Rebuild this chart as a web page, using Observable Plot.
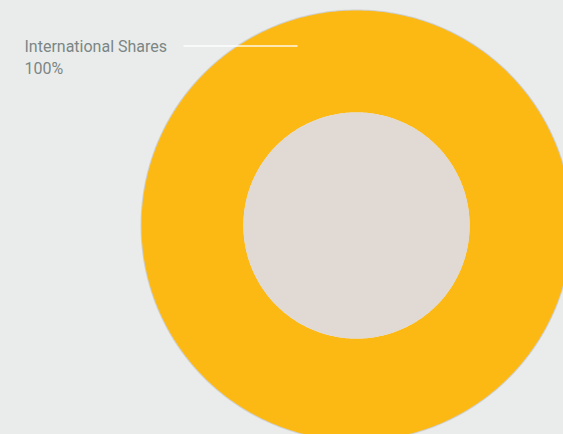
<!DOCTYPE html>
<html>
<head>
<meta charset="utf-8">
<script src="https://cdn.jsdelivr.net/npm/d3@7"></script>
<script src="https://cdn.jsdelivr.net/npm/@observablehq/plot@0.6"></script>
<style>
  html, body { margin: 0; padding: 0; background: #eaeceb; overflow: hidden; }
  #chart svg { display: block; background: #eaeceb; }
</style>
</head>
<body>
<div id="chart"></div>
<script>
// Data
const categories = ["International Shares"];
const values = [100];
const valueLabels = ["100%"];
const colors = ["#fdb913"];

// Layout
const W = 563, H = 434;
const cx = 356, cy = 225, R = 215;
const innerFrac = 0.526;

const pie = d3.pie().sort(null)(values);
const N = 360;
const ringPts = [];
pie.forEach((s, i) => {
  const a0 = s.startAngle, a1 = s.endAngle;
  for (let k = 0; k <= N; k++) {
    const a = a0 + (a1 - a0) * k / N;
    ringPts.push({cat: categories[i], x: Math.sin(a), y: Math.cos(a)});
  }
  for (let k = N; k >= 0; k--) {
    const a = a0 + (a1 - a0) * k / N;
    ringPts.push({cat: categories[i], x: innerFrac * Math.sin(a), y: innerFrac * Math.cos(a)});
  }
});
const outerEdge = d3.range(N + 1).map(k => {
  const a = 2 * Math.PI * k / N;
  return {x: Math.sin(a), y: Math.cos(a)};
});
const innerDisc = d3.range(N + 1).map(k => {
  const a = 2 * Math.PI * k / N;
  return {x: innerFrac * Math.sin(a), y: innerFrac * Math.cos(a)};
});

// leader line in data coords (from label to ring)
const toX = px => (px - cx) / R, toY = py => (cy - py) / R;
const leader = [{x1: toX(183), y1: toY(45.5), x2: toX(297), y2: toY(45.5)}];

const chart = Plot.plot({
  width: W, height: H,
  margin: 0,
  style: {background: "#eaeceb", overflow: "hidden"},
  x: {domain: [-1, 1], range: [cx - R, cx + R], axis: null},
  y: {domain: [-1, 1], range: [cy + R, cy - R], axis: null},
  color: {domain: categories, range: colors},
  marks: [
    Plot.line(outerEdge, {x: "x", y: "y", stroke: "#cfcfcf", strokeWidth: 2}),
    Plot.line(ringPts, {x: "x", y: "y", z: "cat", fill: "cat", stroke: "none"}),
    Plot.line(innerDisc, {x: "x", y: "y", fill: "#e0d9d4", stroke: "none"}),
    Plot.link(leader, {x1: "x1", y1: "y1", x2: "x2", y2: "y2", stroke: "#ffffff", strokeWidth: 1.5, strokeOpacity: 0.9}),
    Plot.text([categories[0] + "\n" + valueLabels[0]], {
      frameAnchor: "top-left", dx: 24, dy: 36, text: d => d,
      textAnchor: "start", lineAnchor: "top", lineHeight: 1.375,
      fontSize: 16, fill: "#7b8685", fontFamily: "Roboto, sans-serif"
    })
  ]
});
document.getElementById("chart").appendChild(chart);
</script>
</body>
</html>
